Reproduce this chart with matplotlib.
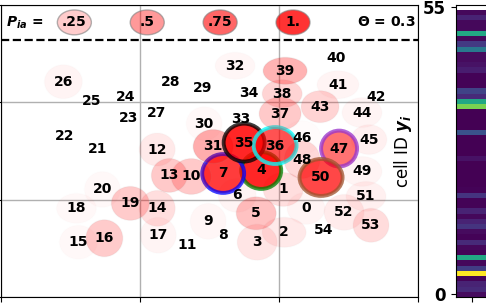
import numpy as np
import matplotlib
matplotlib.use("Agg")
import matplotlib.pyplot as plt
from matplotlib.patches import Ellipse

# cell centres (data units), ellipse size and assignment probability
cell_x = [2.194, 2.029, 2.036, 1.842, 1.871, 1.835, 1.698, 1.597, 1.597, 1.489,
          1.367, 1.338, 1.122, 1.209, 1.122, 0.554, 0.741, 1.129, 0.540, 0.928,
          0.727, 0.691, 0.453, 0.914, 0.892, 0.647, 0.446, 1.115, 1.216, 1.446,
          1.460, 1.525, 1.683, 1.727, 1.784, 1.748, 1.971, 2.007, 2.022, 2.043,
          2.410, 2.424, 2.698, 2.295, 2.597, 2.647, 2.165, 2.432, 2.165, 2.597,
          2.302, 2.626, 2.468, 2.662, 2.324]
cell_y = [0.911, 1.105, 0.665, 0.563, 1.300, 0.860, 1.044, 1.269, 0.635, 0.778,
          1.238, 0.532, 1.515, 1.249, 0.911, 0.563, 0.604, 0.635, 0.911, 0.962,
          1.105, 1.525, 1.658, 1.842, 2.057, 2.016, 2.211, 1.894, 2.211, 2.149,
          1.781, 1.546, 2.375, 1.832, 2.098, 1.586, 1.556, 1.883, 2.088, 2.323,
          2.456, 2.180, 2.057, 1.955, 1.894, 1.617, 1.638, 1.525, 1.412, 1.290,
          1.228, 1.034, 0.870, 0.737, 0.686]
cell_w = [0.273, 0.288, 0.317, 0.288, 0.288, 0.288, 0.273, 0.302, 0.273, 0.259,
          0.288, 0.273, 0.259, 0.259, 0.259, 0.273, 0.266, 0.259, 0.288, 0.273,
          0.259, 0.273, 0.273, 0.273, 0.273, 0.273, 0.273, 0.273, 0.273, 0.273,
          0.259, 0.288, 0.288, 0.273, 0.273, 0.295, 0.309, 0.302, 0.288, 0.317,
          0.273, 0.302, 0.273, 0.273, 0.288, 0.259, 0.273, 0.259, 0.259, 0.288,
          0.310, 0.288, 0.288, 0.259, 0.273]
cell_h = [0.328, 0.348, 0.307, 0.368, 0.379, 0.338, 0.348, 0.399, 0.348, 0.368,
          0.368, 0.348, 0.338, 0.348, 0.368, 0.348, 0.379, 0.368, 0.307, 0.348,
          0.368, 0.348, 0.348, 0.348, 0.348, 0.348, 0.348, 0.348, 0.348, 0.348,
          0.348, 0.348, 0.276, 0.348, 0.348, 0.389, 0.379, 0.338, 0.287, 0.276,
          0.307, 0.287, 0.307, 0.328, 0.307, 0.307, 0.348, 0.368, 0.389, 0.307,
          0.379, 0.307, 0.368, 0.348, 0.348]
cell_p = [0.05, 0.15, 0.10, 0.12, 1.00, 0.28, 0.05, 0.90, 0.00, 0.04,
          0.25, 0.00, 0.10, 0.25, 0.15, 0.03, 0.24, 0.05, 0.03, 0.24,
          0.03, 0.00, 0.00, 0.00, 0.00, 0.00, 0.05, 0.00, 0.00, 0.00,
          0.03, 0.38, 0.04, 0.00, 0.00, 1.00, 0.80, 0.25, 0.20, 0.35,
          0.00, 0.05, 0.00, 0.20, 0.05, 0.07, 0.02, 0.65, 0.18, 0.05,
          0.85, 0.07, 0.09, 0.16, 0.00]
highlight = {35: 'black', 36: 'cyan', 7: 'blue', 4: 'green', 47: 'darkorchid', 50: 'sienna'}

legend_p = [0.25, 0.5, 0.75, 1.0]
legend_lbl = ['.25', '.5', '.75', '1.']
theta = 0.3

# colour strip: one value per cell id
strip = [0.03, 0.12, 0.10, 0.01, 1.00, 0.18, 0.02, 0.60, 0.01, 0.02,
         0.12, 0.01, 0.03, 0.15, 0.10, 0.02, 0.10, 0.01, 0.01, 0.15,
         0.01, 0.00, 0.00, 0.00, 0.00, 0.00, 0.05, 0.00, 0.00, 0.00,
         0.00, 0.25, 0.00, 0.00, 0.00, 0.00, 0.80, 0.60, 0.12, 0.20,
         0.01, 0.01, 0.01, 0.08, 0.05, 0.03, 0.03, 0.40, 0.17, 0.02,
         0.60, 0.02, 0.02, 0.10, 0.02]

fig = plt.figure(figsize=(4.86, 3.05), dpi=100)
ax = fig.add_axes([0.003, 0.026, 0.857, 0.958])
ax.set_xlim(0, 3)
ax.set_ylim(0, 3)
ax.set_xticks([0, 1, 2, 3])
ax.set_yticks([0, 1, 2, 3])
ax.set_xticklabels([])
ax.set_yticklabels([])
ax.grid(True, color='#b0b0b0', lw=1)
ax.set_axisbelow(True)

for i in range(len(cell_x)):
    p = cell_p[i]
    e = Ellipse((cell_x[i], cell_y[i]), cell_w[i], cell_h[i],
                facecolor=(1, 0, 0, 0.85 * p), edgecolor=(0.6, 0.6, 0.6, 0.3 * p), lw=1)
    ax.add_patch(e)
    if i in highlight:
        ring = Ellipse((cell_x[i], cell_y[i]), cell_w[i], cell_h[i],
                       facecolor='none', edgecolor=highlight[i], lw=2.8, alpha=0.75)
        ax.add_patch(ring)
    ax.text(cell_x[i], cell_y[i], str(i), ha='center', va='center',
            fontsize=10, fontweight='bold', zorder=5)

# legend row
ax.axhline(2.64, color='k', ls='--', lw=1.6)
ly = 2.82
ax.text(0.03, ly, r'$\mathbfit{P}_{\mathbfit{ia}}$ =', ha='left', va='center',
        fontsize=10, fontweight='bold')
for k, q in enumerate(legend_p):
    lx = 0.525 * (k + 1)
    ax.add_patch(Ellipse((lx, ly), 0.245, 0.255, facecolor=(1, 0, 0, 0.8 * q),
                         edgecolor=(0.5, 0.5, 0.5, 0.6), lw=1))
    ax.text(lx, ly, legend_lbl[k], ha='center', va='center', fontsize=10, fontweight='bold')
ax.text(2.98, ly, r'$\mathbf{\Theta}$ = ' + str(theta), ha='right', va='center',
        fontsize=10, fontweight='bold')

# cell id colour strip
cax = fig.add_axes([0.938, 0.026, 0.066, 0.958])
vals = np.array(strip).reshape(-1, 1)
cax.imshow(vals, cmap='viridis', vmin=0, vmax=1, aspect='auto', origin='lower',
           extent=(-0.5, 0.5, -0.5, len(strip) - 0.5), interpolation='nearest')
cax.set_xlim(-0.5, 0.5)
cax.set_ylim(-0.5, 55.5)
cax.set_xticks([0])
cax.set_xticklabels([])
cax.set_yticks([0, 55])
cax.set_yticklabels(['0', '55'], fontsize=12, fontweight='bold')
cax.set_ylabel(r'cell ID $\mathbfit{y_i}$', fontsize=12)
cax.yaxis.set_label_coords(-1.3, 0.5)

fig.savefig('out.png', dpi=100)
